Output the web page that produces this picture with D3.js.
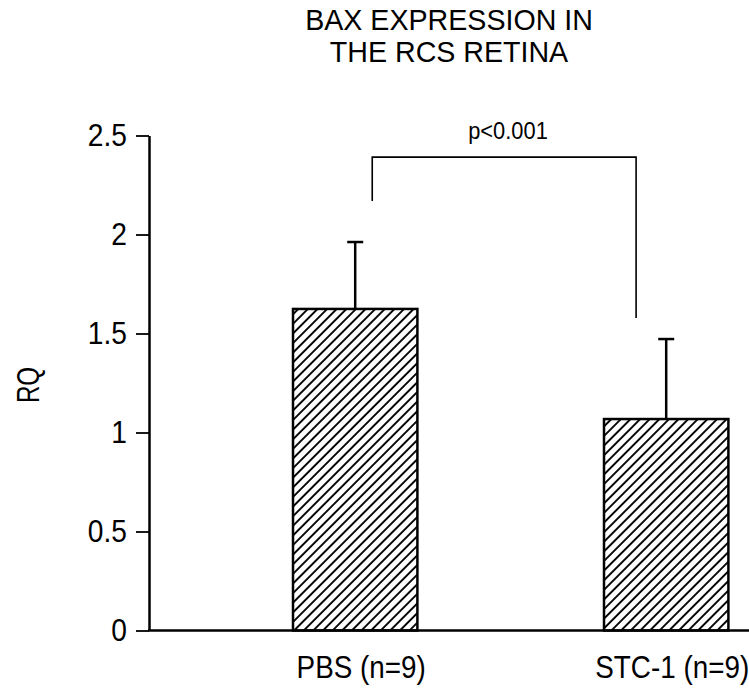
<!DOCTYPE html>
<html>
<head>
<meta charset="utf-8">
<script src="https://cdn.jsdelivr.net/npm/d3@7"></script>
<style>
  html, body { margin: 0; padding: 0; background: #fff; }
  svg { display: block; }
  text { font-family: "Liberation Sans", Arial, Helvetica, sans-serif; fill: #000; }
</style>
</head>
<body>
<svg id="chart" width="749" height="688"></svg>
<script>
// ---- data ----
const categories = ["PBS (n=9)", "STC-1 (n=9)"];
const meanValues = [1.624, 1.068];
const errorValues = [0.338, 0.404];   // upper SD whiskers
const yTickValues = [0, 0.5, 1, 1.5, 2, 2.5];
const yTickLabels = ["0", "0.5", "1", "1.5", "2", "2.5"];
const titleLines = ["BAX EXPRESSION IN", "THE RCS RETINA"];
const yAxisLabel = "RQ";
const significanceLabel = "p<0.001";
// bracket: [left leg bottom, top, right leg bottom] in RQ units
const bracketLevels = [2.169, 2.391, 1.578];

// ---- layout ----
const svg = d3.select("#chart");
const axisX = 149, axisRight = 749;
const y = d3.scaleLinear().domain([0, 2.5]).range([630.5, 135.5]);
const x = d3.scaleBand().domain(categories).range([293, 293 + 311 * 1.4]).paddingInner(0.6).paddingOuter(0);
const bw = x.bandwidth();

// hatch pattern
const defs = svg.append("defs");
const pat = defs.append("pattern")
  .attr("id", "hatch").attr("patternUnits", "userSpaceOnUse")
  .attr("width", 6.8).attr("height", 6.8)
  .attr("patternTransform", "rotate(45)");
pat.append("rect").attr("width", 6.8).attr("height", 6.8).attr("fill", "#fff");
pat.append("line").attr("x1", 1).attr("y1", 0).attr("x2", 1).attr("y2", 6.8)
  .attr("stroke", "#000").attr("stroke-width", 1.9);

// title
svg.append("g").selectAll("g").data(titleLines).join("g")
  .attr("transform", (d, i) => `translate(449,${30 + i * 32}) scale(0.97,1)`)
  .append("text").attr("text-anchor", "middle").attr("font-size", 29.5)
  .text(d => d);

// y-axis
const tickScale = 0.88;
const yAxis = d3.axisLeft(y).tickValues(yTickValues)
  .tickFormat((d, i) => yTickLabels[i]).tickSize(13).tickSizeOuter(0).tickPadding(9);
const gy = svg.append("g").attr("transform", `translate(${axisX},0)`).call(yAxis);
gy.select(".domain").attr("stroke", "#000").attr("stroke-width", 2.5);
gy.selectAll(".tick line").attr("stroke", "#000").attr("stroke-width", 1.8);
gy.selectAll(".tick text")
  .attr("font-size", 32).attr("font-family", "Liberation Sans, Arial, sans-serif")
  .attr("fill", "#000")
  .attr("x", -22 / tickScale)
  .attr("transform", `scale(${tickScale},1)`);

// y-axis label
svg.append("text")
  .attr("transform", "translate(39,385) rotate(-90) scale(0.78,1)")
  .attr("text-anchor", "middle").attr("font-size", 31)
  .text(yAxisLabel);

// bars
svg.append("g").selectAll("rect").data(categories).join("rect")
  .attr("x", d => x(d)).attr("width", bw)
  .attr("y", (d, i) => y(meanValues[i]))
  .attr("height", (d, i) => y(0) - y(meanValues[i]))
  .attr("fill", "url(#hatch)").attr("stroke", "#000").attr("stroke-width", 2.5);

// error bars (upper only)
const eg = svg.append("g").attr("stroke", "#000").attr("stroke-width", 2.5);
categories.forEach((c, i) => {
  const cx = x(c) + bw / 2;
  eg.append("line").attr("x1", cx).attr("x2", cx)
    .attr("y1", y(meanValues[i])).attr("y2", y(meanValues[i] + errorValues[i]));
  eg.append("line").attr("x1", cx - 8).attr("x2", cx + 8)
    .attr("y1", y(meanValues[i] + errorValues[i])).attr("y2", y(meanValues[i] + errorValues[i]));
});

// x-axis line
svg.append("line").attr("x1", axisX - 1).attr("x2", axisRight)
  .attr("y1", y(0)).attr("y2", y(0)).attr("stroke", "#000").attr("stroke-width", 2.5);

// x labels
const labScale = 0.87;
svg.append("g").selectAll("g").data(categories).join("g")
  .attr("transform", d => `translate(${x(d) + bw / 2 + 6},678) scale(${labScale},1)`)
  .append("text").attr("text-anchor", "middle").attr("font-size", 32)
  .text(d => d);

// significance bracket
const bx1 = x(categories[0]) + bw * 0.637;
const bx2 = x(categories[1]) + bw * 0.258;
svg.append("path")
  .attr("d", d3.line()([[bx1, y(bracketLevels[0])], [bx1, y(bracketLevels[1])],
                        [bx2, y(bracketLevels[1])], [bx2, y(bracketLevels[2])]]))
  .attr("fill", "none").attr("stroke", "#000").attr("stroke-width", 1.6);
svg.append("g").attr("transform", "translate(508,139) scale(0.93,1)")
  .append("text").attr("text-anchor", "middle").attr("font-size", 23.5)
  .text(significanceLabel);
</script>
</body>
</html>
